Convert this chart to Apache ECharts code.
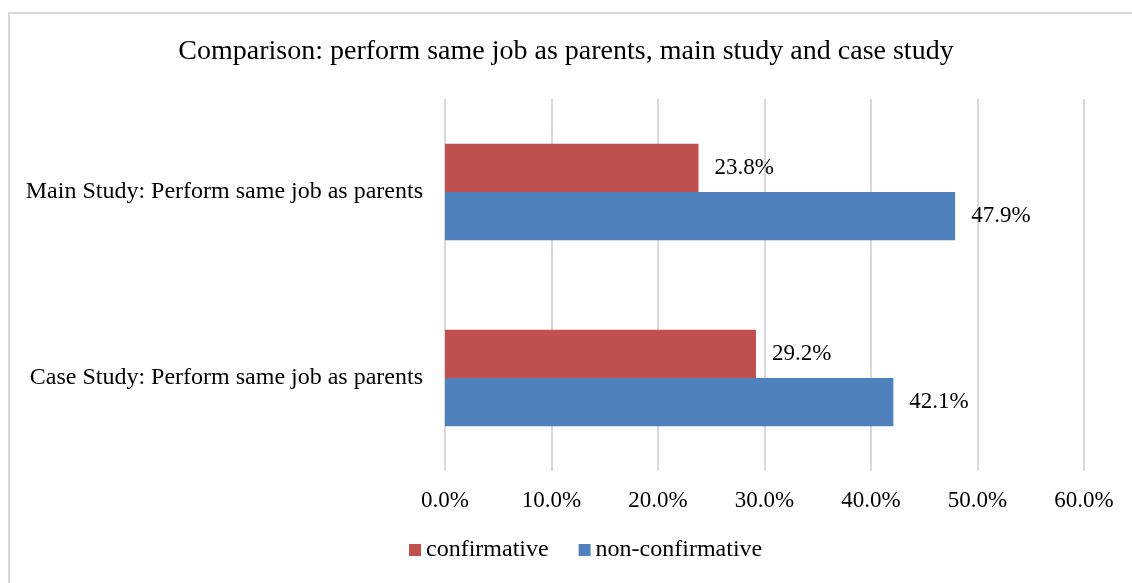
<!DOCTYPE html>
<html>
<head>
<meta charset="utf-8">
<script src="https://cdn.jsdelivr.net/npm/echarts@6/dist/echarts.min.js"></script>
<style>
html,body{margin:0;padding:0;background:#fff;}
#frame{position:absolute;left:8px;top:12px;width:1130px;height:575px;border-left:2px solid #d9d9d9;border-top:2px solid #d9d9d9;box-sizing:border-box;}
#chart{position:absolute;left:0;top:0;width:1132px;height:583px;}
</style>
</head>
<body>
<div id="frame"></div>
<div id="chart"></div>
<script>
const categories = ['Main Study: Perform same job as parents', 'Case Study: Perform same job as parents'];
const seriesNames = ['confirmative', 'non-confirmative'];
const confirmative = [23.8, 29.2];
const nonConfirmative = [47.9, 42.1];
const xTicks = [0, 10, 20, 30, 40, 50, 60];

const font = '"Liberation Serif", "Times New Roman", serif';
const chart = echarts.init(document.getElementById('chart'));
const labelOpt = {
  show: true, position: 'right', distance: 16,
  formatter: p => p.value.toFixed(1) + '%',
  fontFamily: font, fontSize: 23, color: '#000'
};
chart.setOption({
  animation: false,
  backgroundColor: 'transparent',
  title: {
    text: 'Comparison: perform same job as parents, main study and case study',
    left: 'center', top: 33,
    textStyle: { fontFamily: font, fontSize: 28, fontWeight: 'normal', color: '#000' }
  },
  legend: {
    data: seriesNames,
    bottom: 16, left: 404,
    itemWidth: 12, itemHeight: 12, itemGap: 30,
    icon: 'rect',
    textStyle: { fontFamily: font, fontSize: 24, color: '#000' }
  },
  grid: { left: 445, right: 48, top: 99, bottom: 112 },
  xAxis: {
    type: 'value', min: xTicks[0], max: xTicks[xTicks.length - 1], interval: 10,
    axisLine: { show: false }, axisTick: { show: false },
    splitLine: { lineStyle: { color: '#d9d9d9', width: 2 } },
    axisLabel: { formatter: v => v.toFixed(1) + '%', fontFamily: font, fontSize: 23, color: '#000', margin: 18 }
  },
  yAxis: {
    type: 'category', data: categories, inverse: true,
    axisLine: { show: false }, axisTick: { show: false },
    axisLabel: { fontFamily: font, fontSize: 24, color: '#000', margin: 22 }
  },
  series: [
    { name: seriesNames[0], type: 'bar', data: confirmative, barGap: '0%', barCategoryGap: '48%',
      itemStyle: { color: '#C0504D' }, label: labelOpt },
    { name: seriesNames[1], type: 'bar', data: nonConfirmative, barGap: '0%', barCategoryGap: '48%',
      itemStyle: { color: '#4F81BD' }, label: labelOpt }
  ]
});
</script>
</body>
</html>
